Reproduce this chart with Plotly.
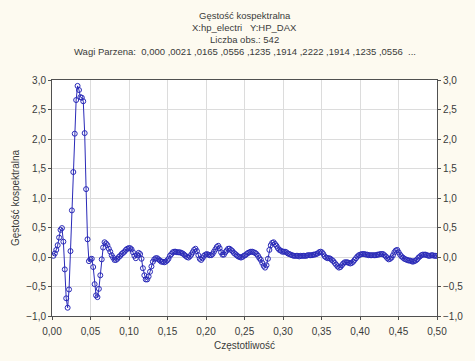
import plotly.graph_objects as go

# Cross-spectral (co-spectrum) density estimate, Parzen window
N_OBS = 542
TITLE_LINES = [
    "Gęstość kospektralna",
    "X:hp_electri   Y:HP_DAX",
    "Liczba obs.: 542",
    "Wagi Parzena:  0,000 ,0021 ,0165 ,0556 ,1235 ,1914 ,2222 ,1914 ,1235 ,0556  ...",
]
X_TITLE = "Częstotliwość"
Y_TITLE = "Gęstość kospektralna"
X_TICKS = [0.00, 0.05, 0.10, 0.15, 0.20, 0.25, 0.30, 0.35, 0.40, 0.45, 0.50]
Y_TICKS = [-1.0, -0.5, 0.0, 0.5, 1.0, 1.5, 2.0, 2.5, 3.0]

# Co-spectral density at frequencies k/N_OBS, k = 1 .. N_OBS/2
density = [
    0.02, 0.06, 0.12, 0.20, 0.33, 0.46, 0.49, 0.26, -0.21, -0.70,
    -0.86, -0.55, 0.10, 0.79, 1.44, 2.09, 2.66, 2.90, 2.83, 2.71,
    2.70, 2.64, 2.10, 1.15, 0.30, -0.07, -0.04, -0.03, -0.17, -0.46,
    -0.65, -0.68, -0.54, -0.31, -0.04, 0.16, 0.25, 0.23, 0.20, 0.14,
    0.09, 0.03, -0.01, -0.05, -0.05, -0.03, 0.00, 0.02, 0.05, 0.07,
    0.09, 0.12, 0.14, 0.15, 0.15, 0.13, 0.08, 0.02, -0.02, 0.03,
    0.07, 0.05, -0.03, -0.19, -0.31, -0.38, -0.38, -0.33, -0.25, -0.16,
    -0.08, -0.04, -0.02, -0.02, -0.04, -0.06, -0.08, -0.08, -0.09, -0.08,
    -0.06, -0.03, 0.02, 0.05, 0.08, 0.09, 0.09, 0.08, 0.08, 0.08,
    0.07, 0.06, 0.04, 0.02, 0.00, -0.01, 0.01, 0.04, 0.08, 0.12,
    0.14, 0.10, 0.03, -0.03, -0.05, -0.02, 0.02, 0.04, 0.05, 0.04,
    0.03, 0.03, 0.05, 0.09, 0.13, 0.17, 0.19, 0.15, 0.08, 0.04,
    0.04, 0.08, 0.11, 0.14, 0.14, 0.12, 0.10, 0.07, 0.05, 0.03,
    0.01, 0.00, -0.01, 0.00, 0.02, 0.03, 0.05, 0.07, 0.08, 0.09,
    0.09, 0.08, 0.07, 0.05, 0.02, -0.02, -0.05, -0.10, -0.15, -0.18,
    -0.14, -0.03, 0.12, 0.20, 0.24, 0.25, 0.22, 0.19, 0.15, 0.12,
    0.11, 0.09, 0.09, 0.09, 0.08, 0.06, 0.05, 0.04, 0.03, 0.02,
    0.02, 0.02, 0.02, 0.01, 0.02, 0.02, 0.02, 0.02, 0.02, 0.03,
    0.03, 0.03, 0.03, 0.04, 0.04, 0.05, 0.06, 0.08, 0.09, 0.08,
    0.05, 0.01, -0.01, -0.02, -0.02, -0.03, -0.05, -0.07, -0.10, -0.13,
    -0.16, -0.18, -0.17, -0.14, -0.11, -0.09, -0.09, -0.09, -0.10, -0.11,
    -0.10, -0.08, -0.05, -0.02, 0.01, 0.03, 0.04, 0.05, 0.05, 0.05,
    0.04, 0.04, 0.03, 0.03, 0.03, 0.03, 0.03, 0.03, 0.04, 0.04,
    0.05, 0.05, 0.05, 0.03, 0.01, -0.02, -0.04, -0.03, -0.01, 0.03,
    0.08, 0.11, 0.12, 0.08, 0.04, 0.01, -0.01, -0.03, -0.04, -0.05,
    -0.06, -0.06, -0.07, -0.08, -0.07, -0.06, -0.04, -0.01, 0.01, 0.03,
    0.04, 0.04, 0.04, 0.03, 0.02, 0.02, 0.03, 0.03, 0.02, 0.02,
    0.02,
]
freq = [k / N_OBS for k in range(1, len(density) + 1)]

BG = "#fdfaf0"
TEXT = "#3a3a3a"
FONT = "Liberation Sans, Arial, sans-serif"
BLUE = "#2a2ab8"

fig = go.Figure()
fig.add_trace(go.Scatter(
    x=freq, y=density, mode="lines+markers",
    line=dict(color=BLUE, width=1),
    marker=dict(symbol="circle-open", size=5, color=BLUE, line=dict(width=1)),
    showlegend=False, hoverinfo="x+y",
))
# invisible companion trace so the right-hand value axis is drawn
fig.add_trace(go.Scatter(
    x=[freq[0]], y=[density[0]], yaxis="y2", mode="markers",
    marker=dict(opacity=0), showlegend=False, hoverinfo="skip",
))

axis_common = dict(
    showline=True, linecolor="#505050", linewidth=1,
    showgrid=True, gridcolor="#dcdcdc", gridwidth=1,
    ticks="outside", ticklen=3, tickcolor="#505050",
    tickfont=dict(family=FONT, size=10, color=TEXT),
    zeroline=False,
)

fig.update_layout(
    width=475, height=361,
    margin=dict(l=52, r=23, t=80, b=33),
    paper_bgcolor=BG, plot_bgcolor="#ffffff",
    separators=", ",
    font=dict(family=FONT, size=10, color=TEXT),
    xaxis=dict(
        range=[0, 0.5], tickvals=X_TICKS, tickformat=".2f",
        mirror=True, ticklabelstandoff=3,
        title=dict(text=X_TITLE, standoff=5, font=dict(family=FONT, size=10, color=TEXT)),
        **axis_common,
    ),
    yaxis=dict(
        range=[-1, 3], tickvals=Y_TICKS, tickformat=".1f",
        mirror=True,
        title=dict(text=Y_TITLE, standoff=4, font=dict(family=FONT, size=10, color=TEXT)),
        **axis_common,
    ),
    yaxis2=dict(
        range=[-1, 3], tickvals=Y_TICKS, tickformat=".1f",
        overlaying="y", side="right", matches="y",
        showline=False, showgrid=False,
        ticks="outside", ticklen=3, tickcolor="#505050",
        tickfont=dict(family=FONT, size=10, color=TEXT),
        zeroline=False,
    ),
)

for i, line in enumerate(TITLE_LINES):
    fig.add_annotation(
        text=line, xref="paper", yref="paper",
        x=0.5, y=1, yshift=65 - 12 * i,
        xanchor="center", yanchor="middle", showarrow=False,
        font=dict(family=FONT, size=9.5, color=TEXT),
    )

fig.write_html("out.html")
